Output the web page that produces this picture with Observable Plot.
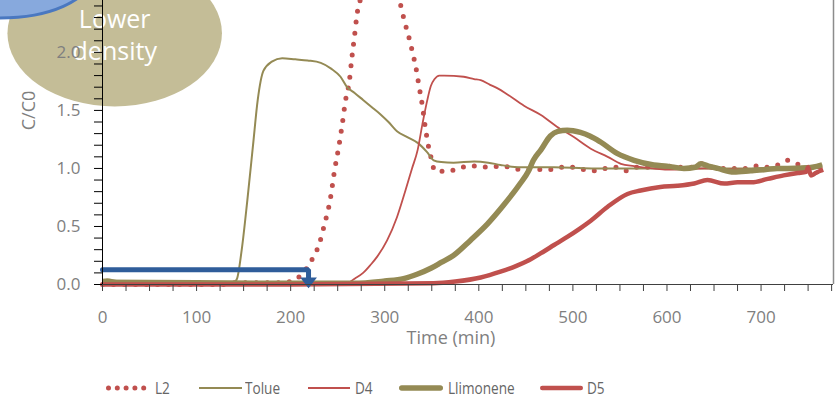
<!DOCTYPE html>
<html>
<head>
<meta charset="utf-8">
<script src="https://cdn.jsdelivr.net/npm/d3@7"></script>
<script src="https://cdn.jsdelivr.net/npm/@observablehq/plot@0.6"></script>
<style>
  html, body { margin: 0; padding: 0; background: #fff; }
  #chart { width: 839px; height: 400px; position: relative; overflow: hidden; font-family: "Open Sans", sans-serif; }
  #legend { position: relative; height: 40px; }
  #legend svg, #legend span { position: absolute; }
  #legend span { font-size: 17px; line-height: 20px; color: #666; top: 18px; white-space: nowrap;
                 transform: scaleX(0.8); transform-origin: left center; }
</style>
</head>
<body>
<div id="chart"></div>
<script>
// Breakthrough curves: [time (min), C/C0]
const L2 = [
  [0, 0], [60, 0], [130, 0], [140, 0.015], [160, 0.015], [180, 0.015], [195, 0.02], [202, 0.03],
  [212, 0.09], [219.5, 0.17], [225, 0.25], [230, 0.34], [236, 0.52], [242, 0.73], [247, 1.0],
  [251, 1.18], [255, 1.39], [258, 1.57], [262.5, 1.76], [265, 1.95], [268, 2.15], [270.6, 2.33],
  [276, 2.5], [283, 2.66], [292, 2.74], [300, 2.72], [308, 2.6], [314, 2.46], [317.5, 2.39],
  [320, 2.3], [326, 2.12], [329, 2.02], [334, 1.83], [336, 1.73], [340, 1.54], [343, 1.36],
  [347, 1.17], [350, 1.07], [353, 0.98], [364.6, 0.975], [376, 0.99], [388, 1.02], [399, 1.02],
  [411, 1.01], [422, 1.02], [434, 1.01], [444, 0.99], [466, 0.99], [477, 0.99], [489, 1.01],
  [500, 1.01], [512, 0.99], [523, 0.98], [535, 1.0], [547, 1.01], [556, 0.98], [568, 1.01],
  [579, 1.01], [602, 1.02], [614, 1.01], [625, 1.01], [636, 1.04], [648, 1.01], [660, 1.0],
  [671, 1.0], [683, 1.0], [695, 1.02], [707, 1.01], [718, 1.03], [729, 1.07], [738, 1.04],
  [750, 1.01], [761, 0.98]
];
const Tolue = [
  [0, 0.04], [5, 0.045], [15, 0.03], [30, 0.02], [60, 0.02], [100, 0.015], [130, 0.015],
  [140, 0.02], [143, 0.05], [148, 0.3], [154, 0.73], [160, 1.2], [165, 1.59], [171, 1.84],
  [180, 1.92], [191, 1.95], [205, 1.94], [218, 1.93], [232, 1.91], [243, 1.86], [253, 1.79],
  [260, 1.7], [268, 1.65], [277, 1.59], [286, 1.53], [295, 1.47], [304, 1.4], [313, 1.32],
  [324, 1.27], [335, 1.22], [345, 1.14], [352, 1.07], [360, 1.055], [373, 1.05], [395, 1.06],
  [410, 1.05], [423, 1.03], [444, 1.01], [480, 1.01], [520, 1.0], [560, 1.0], [600, 1.0],
  [640, 1.0], [680, 1.0], [720, 1.01], [750, 1.02], [765, 1.03]
];
const D4 = [
  [0, 0], [240, 0], [255, 0], [260, 0.01], [268, 0.05], [277, 0.1], [285, 0.17], [292, 0.24],
  [302.5, 0.38], [313, 0.58], [322, 0.81], [329, 1.0], [335, 1.16], [340, 1.38], [345, 1.58],
  [349, 1.71], [353, 1.77], [358, 1.8], [363, 1.8], [384, 1.79], [395, 1.77], [402, 1.76],
  [412, 1.72], [420, 1.69], [430, 1.64], [448, 1.54], [466, 1.46], [483, 1.36], [501, 1.27],
  [519, 1.17], [537, 1.1], [551, 1.04], [565, 1.02], [585, 1.0], [600, 0.99], [640, 1.0],
  [680, 0.99], [720, 1.0], [750, 1.01], [765, 1.0]
];
const Llimonene = [
  [0, 0.02], [100, 0.015], [200, 0.01], [267, 0.01], [300, 0.03], [320, 0.05], [335, 0.09],
  [349, 0.14], [360, 0.19], [373, 0.25], [391, 0.38], [409, 0.52], [426, 0.68], [444, 0.87],
  [453, 0.98], [458, 1.07], [466, 1.16], [476, 1.28], [484, 1.32], [494, 1.33], [508, 1.31],
  [518, 1.28], [529, 1.23], [547, 1.13], [565, 1.07], [586, 1.03], [600, 1.02], [618, 1.0],
  [630, 1.01], [636, 1.04], [644, 1.02], [654, 1.0], [671, 0.97], [689, 0.98], [705, 0.99],
  [717, 1.0], [742, 1.0], [755, 1.01], [765, 1.03]
];
const D5 = [
  [0, 0], [200, 0], [352, 0.01], [375, 0.025], [402, 0.06], [423, 0.11], [440, 0.16],
  [451, 0.2], [466, 0.27], [480, 0.34], [494, 0.41], [507, 0.48], [519, 0.55], [537, 0.67],
  [558, 0.78], [572, 0.81], [593, 0.84], [611, 0.85], [629, 0.87], [643, 0.9], [661, 0.87],
  [675, 0.88], [690, 0.88], [707, 0.91], [724, 0.94], [739, 0.96], [748, 0.97], [750, 1.01],
  [753, 0.94], [758, 0.96], [763, 0.98], [766, 0.99]
];

// Series styling, in drawing order
const RED = "#c0504d", OLIVE = "#948a54";
const series = [
  {name: "L2", data: L2, color: RED, width: 5, dash: "0 11", legendDash: "0 8.8"},
  {name: "Tolue", data: Tolue, color: OLIVE, width: 2},
  {name: "D4", data: D4, color: RED, width: 1.8},
  {name: "Llimonene", data: Llimonene, color: OLIVE, width: 5.5},
  {name: "D5", data: D5, color: RED, width: 4.5}
];

// Annotations (data units)
const arrowPath = [[0, 0.127], [219, 0.127], [219, 0.06]];
const arrowHead = [[219, 0.015]];
const noteLines = [{t: 13, v: 2.283, text: "Lower"}, {t: 13, v: 2.0, text: "density"}];
const tanEllipse = {t: 13.5, v: 2.16, rt: 114, rv: 0.63};
const blueEllipse = {t: -109, v: 2.636, rt: 96, rv: 0.344};

const xTicks = d3.range(0, 776, 25);
const yTicks = d3.range(0, 25).map(i => i / 10);

// Flat, downward-pointing arrowhead
const downHead = {
  draw(ctx, size) {
    const k = Math.sqrt(size / Math.PI);
    ctx.moveTo(-k * 1.2, -k * 0.75);
    ctx.lineTo(k * 1.2, -k * 0.75);
    ctx.lineTo(0, k * 0.8);
    ctx.closePath();
  }
};

const plot = Plot.plot({
  width: 839,
  height: 360,
  marginLeft: 102,
  marginRight: 6,
  marginTop: 0,
  marginBottom: 76,
  style: {fontFamily: "Open Sans, sans-serif", fontSize: "17px", background: "#fff", overflow: "hidden"},
  x: {domain: [0, 777], axis: null},
  y: {domain: [0, 2.447], axis: null},
  marks: [
    ...series.map(s => Plot.line(s.data, {
      x: d => d[0], y: d => d[1],
      stroke: s.color, strokeWidth: s.width,
      strokeDasharray: s.dash, strokeLinecap: s.dash ? "round" : "butt",
      curve: "monotone-x"
    })),
    Plot.line(arrowPath, {x: d => d[0], y: d => d[1], stroke: "#2f5d9a", strokeWidth: 5, strokeLinejoin: "miter"}),
    Plot.dot(arrowHead, {x: d => d[0], y: d => d[1], symbol: downHead, r: 7, fill: "#2f5d9a", stroke: "none"}),
    Plot.text(noteLines, {x: "t", y: "v", text: "text", fill: "#fff", fontSize: 25}),
    Plot.ruleX([0], {stroke: "#000"}),
    Plot.ruleX([777], {stroke: "#8c8c8c", strokeWidth: 1.5}),
    Plot.ruleY([0], {stroke: "#404040"}),
    Plot.axisX({ticks: xTicks, tickFormat: d => d % 100 === 0 ? String(d) : "", tickSize: 7, tickPadding: 19,
                stroke: "#404040", fill: "#7f7f7f", label: null}),
    Plot.axisY({ticks: yTicks, tickFormat: d => Math.round(d * 10) % 5 === 0 ? d.toFixed(1) : "", tickSize: 8, tickPadding: 14,
                stroke: "#000", fill: "#7f7f7f", label: null}),
    Plot.text(["Time (min)"], {frameAnchor: "bottom", dx: -17, dy: 59, fill: "#7f7f7f", fontSize: 18}),
    Plot.text(["C/C0"], {frameAnchor: "top-left", dx: -73, dy: 110, rotate: -90, textAnchor: "middle", lineAnchor: "middle", fill: "#7f7f7f", fontSize: 18})
  ]
});

// Background ellipses, placed through the plot's scales and drawn behind all marks
const sx = plot.scale("x"), sy = plot.scale("y");
const k = (sx.range[1] - sx.range[0]) / (sx.domain[1] - sx.domain[0]);
const kv = (sy.range[0] - sy.range[1]) / (sy.domain[1] - sy.domain[0]);
const firstMark = plot.querySelector("g");
[[tanEllipse, "#c4bd97", "none", 0], [blueEllipse, "#87a9dd", "#4a78c0", 3]].forEach(([e, fill, stroke, sw]) => {
  const el = document.createElementNS("http://www.w3.org/2000/svg", "ellipse");
  el.setAttribute("cx", sx.apply(e.t));
  el.setAttribute("cy", sy.apply(e.v));
  el.setAttribute("rx", e.rt * k);
  el.setAttribute("ry", e.rv * kv);
  el.setAttribute("fill", fill);
  el.setAttribute("stroke", stroke);
  el.setAttribute("stroke-width", sw);
  plot.insertBefore(el, firstMark);
});

const chart = document.getElementById("chart");
chart.appendChild(plot);

// Legend below the plot
const legendPos = [
  {line: [105.5, 154.5], text: 155},
  {line: [199, 242], text: 245},
  {line: [308, 350], text: 355},
  {line: [399, 443], text: 448},
  {line: [540, 583], text: 587}
];
const legend = document.createElement("div");
legend.id = "legend";
series.forEach((s, i) => {
  const p = legendPos[i];
  const w = p.line[1] - p.line[0];
  const sw = d3.create("svg").attr("width", w).attr("height", 12)
    .style("left", p.line[0] + "px").style("top", "22px");
  const dotted = !!s.dash;
  const inset = dotted ? 2.5 : (s.width > 3 ? s.width / 2 : 0);
  sw.append("line")
    .attr("x1", inset).attr("x2", w - inset)
    .attr("y1", 6).attr("y2", 6)
    .attr("stroke", s.color).attr("stroke-width", s.width)
    .attr("stroke-linecap", dotted || s.width > 3 ? "round" : "butt")
    .attr("stroke-dasharray", s.legendDash || null);
  legend.appendChild(sw.node());
  const label = document.createElement("span");
  label.textContent = s.name;
  label.style.left = p.text + "px";
  legend.appendChild(label);
});
chart.appendChild(legend);
</script>
</body>
</html>
